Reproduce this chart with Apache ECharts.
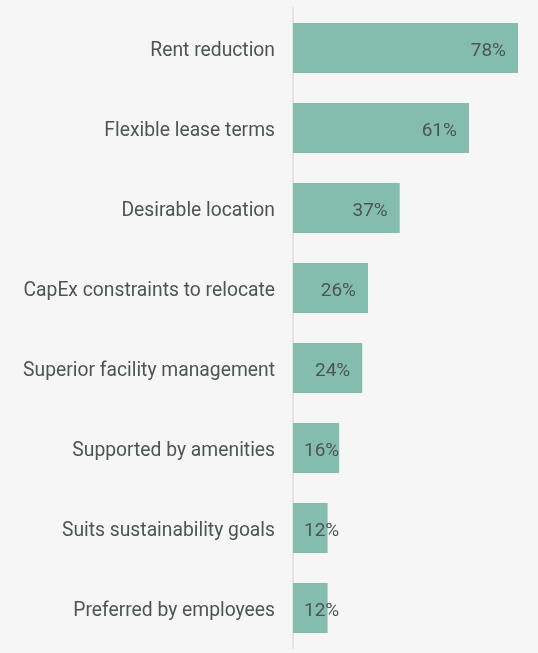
<!DOCTYPE html>
<html>
<head>
<meta charset="utf-8">
<script src="https://cdn.jsdelivr.net/npm/echarts@6/dist/echarts.min.js"></script>
<style>
  html, body { margin: 0; padding: 0; background: #f6f6f6; }
  #chart { width: 538px; height: 653px; }
</style>
</head>
<body>
<div id="chart"></div>
<script>
var categories = [
    'Rent reduction',
    'Flexible lease terms',
    'Desirable location',
    'CapEx constraints to relocate',
    'Superior facility management',
    'Supported by amenities',
    'Suits sustainability goals',
    'Preferred by employees'
];
var values = [78, 61, 37, 26, 24, 16, 12, 12];

var chart = echarts.init(document.getElementById('chart'));
var data = values.map(function (v) {
    // short bars get their label pinned near the axis
    var small = v < 20;
    return {
        value: v,
        label: small
            ? { position: 'insideLeft', distance: 11 }
            : { position: 'insideRight', distance: 12 }
    };
});

var option = {
    backgroundColor: '#f6f6f6',
    textStyle: { fontFamily: 'Roboto, sans-serif' },
    grid: { left: 293, right: 20, top: 8, bottom: 5 },
    xAxis: {
        type: 'value',
        min: 0,
        max: 78,
        show: false
    },
    yAxis: {
        type: 'category',
        inverse: true,
        data: categories,
        axisLine: { show: true, lineStyle: { color: '#e2e4e3', width: 2 } },
        axisTick: { show: false },
        axisLabel: {
            margin: 18,
            formatter: function (v) { return '{a|' + v + '}'; },
            rich: {
                a: {
                    color: '#4b5555',
                    fontSize: 19.3,
                    fontFamily: 'Roboto, sans-serif',
                    padding: [6, 0, 0, 0]
                }
            }
        }
    },
    series: [{
        type: 'bar',
        data: data,
        barWidth: 50,
        itemStyle: { color: '#84bcae' },
        label: {
            show: true,
            formatter: '{c}%',
            color: '#4b5555',
            fontSize: 19,
            offset: [0, 3]
        }
    }]
};
chart.setOption(option);
window.onresize = function () { chart.resize(); };
</script>
</body>
</html>
